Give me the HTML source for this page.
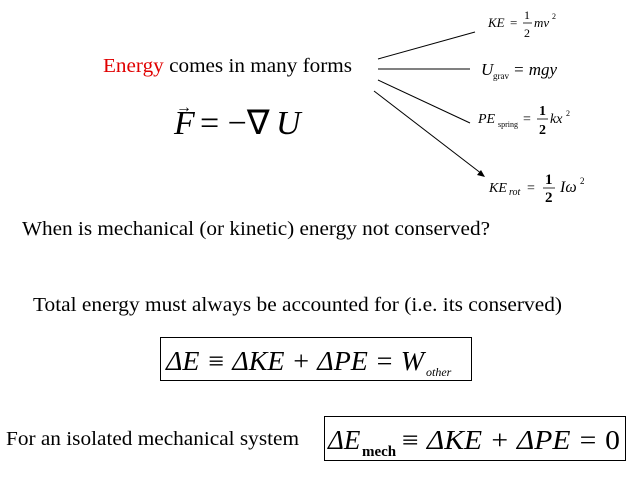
<!DOCTYPE html>
<html><head><meta charset="utf-8"><style>
html,body{margin:0;padding:0;background:#fff;}
svg{display:block;}
text{font-family:"Liberation Serif",serif;fill:#000;}
</style></head><body>
<svg width="640" height="480" viewBox="0 0 640 480" xmlns="http://www.w3.org/2000/svg">
<text x="103" y="72" font-size="20" textLength="249" lengthAdjust="spacingAndGlyphs"><tspan fill="#e00000">Energy</tspan> comes in many forms</text>
<text x="174" y="134" font-size="34" font-style="italic">F</text>
<text x="176" y="112" font-size="16">&#8594;</text>
<text x="200" y="134" font-size="34">= &#8722;&#8711;</text>
<text x="276" y="134" font-size="34" font-style="italic">U</text>
<line x1="378" y1="59" x2="475" y2="32" stroke="#000"/>
<line x1="378" y1="69" x2="470" y2="69" stroke="#000"/>
<line x1="378" y1="80" x2="470" y2="123" stroke="#000"/>
<line x1="374" y1="91" x2="482" y2="174" stroke="#000"/>
<polygon points="485,177 477,175 481,170" fill="#000"/>
<text x="488" y="27" font-size="13" font-style="italic">KE</text>
<text x="510" y="27" font-size="13">=</text>
<text x="524" y="19" font-size="12">1</text>
<line x1="523" y1="23" x2="532" y2="23" stroke="#000" stroke-width="0.8"/>
<text x="524" y="37" font-size="12">2</text>
<text x="534" y="27" font-size="13" font-style="italic">mv</text>
<text x="552" y="19" font-size="8">2</text>
<text x="481" y="75" font-size="17" font-style="italic">U</text>
<text x="493" y="79" font-size="9">grav</text>
<text x="513" y="75" font-size="17" font-style="italic">= mgy</text>
<text x="478" y="123" font-size="14" font-style="italic">PE</text>
<text x="498" y="127" font-size="8">spring</text>
<text x="523" y="123" font-size="14">=</text>
<text x="539" y="115" font-size="14" font-weight="bold">1</text>
<line x1="537" y1="119" x2="548" y2="119" stroke="#000" stroke-width="0.8"/>
<text x="539" y="134" font-size="14" font-weight="bold">2</text>
<text x="550" y="123" font-size="14" font-style="italic">kx</text>
<text x="566" y="116" font-size="8">2</text>
<text x="489" y="192" font-size="14" font-style="italic">KE</text>
<text x="509" y="195" font-size="10" font-style="italic">rot</text>
<text x="527" y="192" font-size="14">=</text>
<text x="545" y="184" font-size="15" font-weight="bold">1</text>
<line x1="543" y1="188" x2="555" y2="188" stroke="#000" stroke-width="0.8"/>
<text x="545" y="202" font-size="15" font-weight="bold">2</text>
<text x="560" y="192" font-size="16" font-style="italic">I&#969;</text>
<text x="580" y="184" font-size="9">2</text>
<text x="22" y="235" font-size="20" textLength="468" lengthAdjust="spacingAndGlyphs">When is mechanical (or kinetic) energy not conserved?</text>
<text x="33" y="311" font-size="20" textLength="529" lengthAdjust="spacingAndGlyphs">Total energy must always be accounted for (i.e. its conserved)</text>
<rect x="160.5" y="337.5" width="311" height="43" fill="none" stroke="#000"/>
<text x="166" y="370" font-size="27" font-style="italic" textLength="258" lengthAdjust="spacingAndGlyphs">&#916;E &#8801; &#916;KE + &#916;PE = W</text>
<text x="426" y="376" font-size="12" font-style="italic">other</text>
<text x="6" y="445" font-size="20" textLength="293" lengthAdjust="spacingAndGlyphs">For an isolated mechanical system</text>
<rect x="324.5" y="416.5" width="301" height="44" fill="none" stroke="#000"/>
<text x="328" y="449" font-size="27" font-style="italic">&#916;E</text>
<text x="362" y="456" font-size="15" font-weight="bold">mech</text>
<text x="400" y="449" font-size="27" font-style="italic" textLength="220" lengthAdjust="spacingAndGlyphs">&#8801; &#916;KE + &#916;PE = <tspan font-style="normal">0</tspan></text>
</svg>
</body></html>
